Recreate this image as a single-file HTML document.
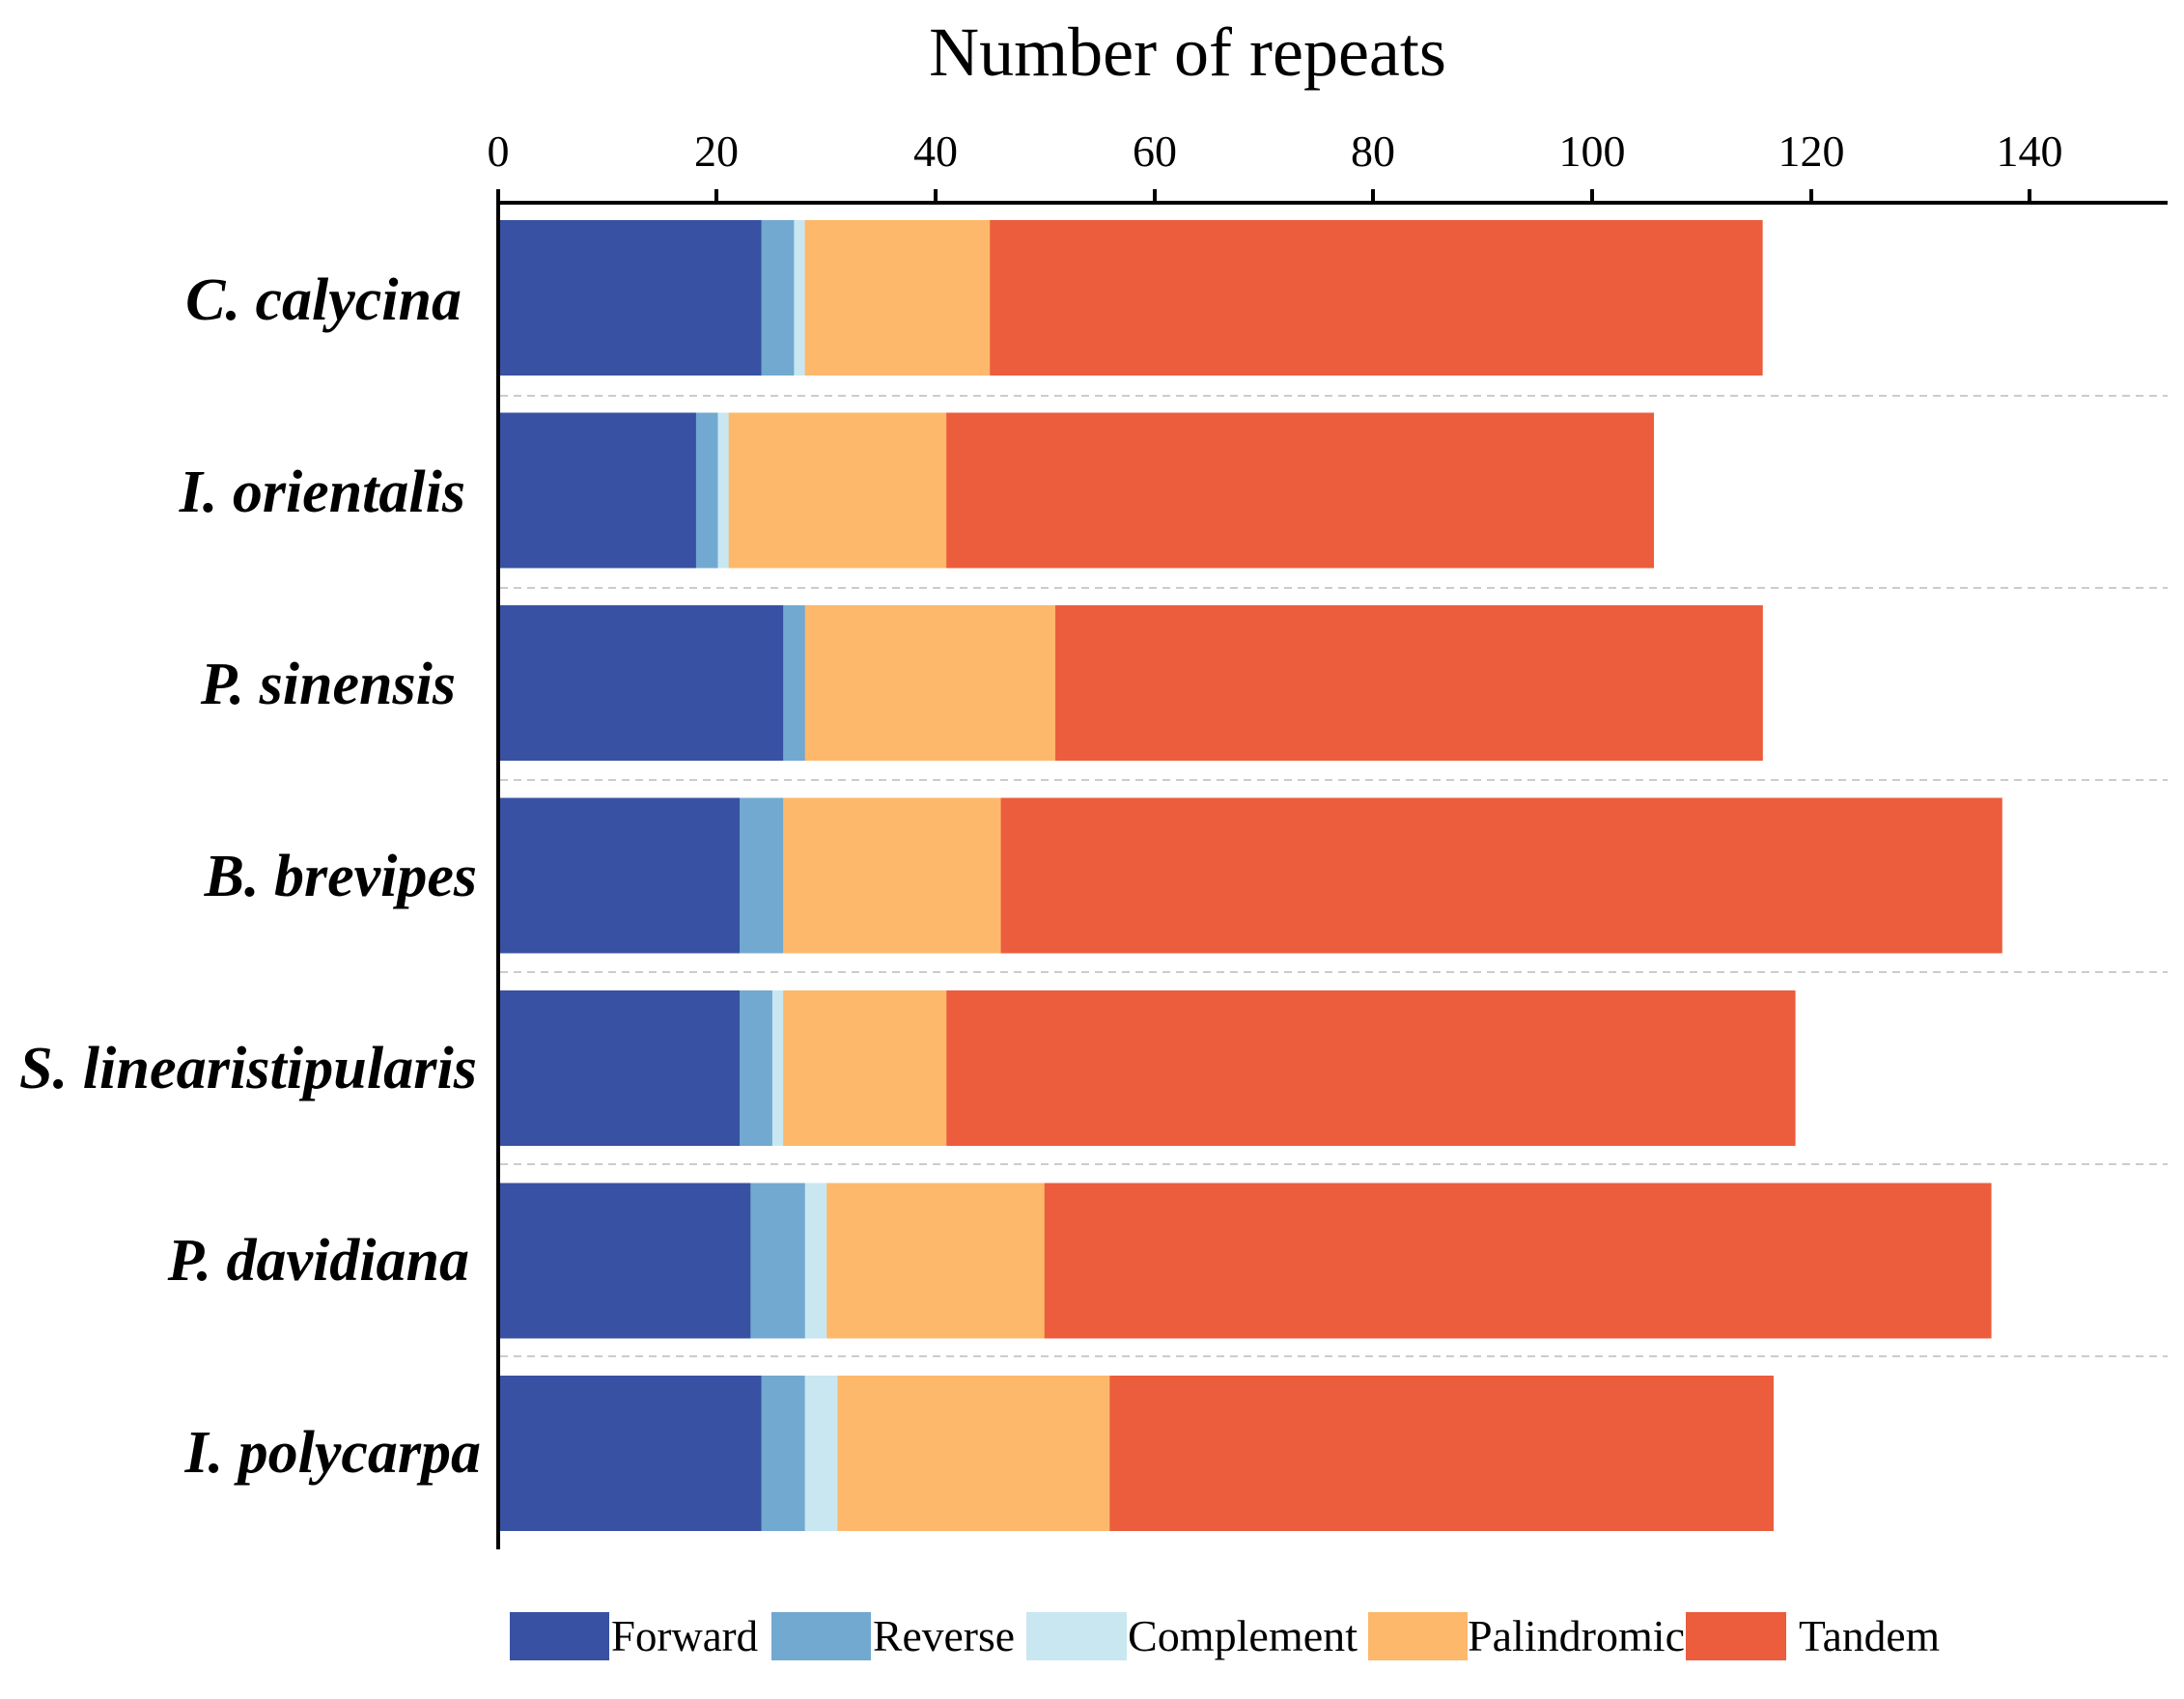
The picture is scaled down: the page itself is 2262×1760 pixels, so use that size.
<!DOCTYPE html>
<html><head><meta charset="utf-8"><style>html,body{margin:0;padding:0;background:#fff}svg{display:block}</style></head><body>
<svg width="2262" height="1760" viewBox="0 0 2262 1760" xmlns="http://www.w3.org/2000/svg" font-family="Liberation Serif, serif">
<text x="1230" y="78" font-size="72" text-anchor="middle">Number of  repeats</text>
<g font-size="46" text-anchor="middle">
<text x="516" y="172">0</text><text x="742" y="172">20</text><text x="969" y="172">40</text><text x="1196" y="172">60</text><text x="1422" y="172">80</text><text x="1649" y="172">100</text><text x="1876" y="172">120</text><text x="2102" y="172">140</text>
</g>
<g stroke="#ccc" stroke-width="2" stroke-dasharray="8,6">
<line x1="518" y1="410" x2="2245" y2="410"/><line x1="518" y1="609" x2="2245" y2="609"/><line x1="518" y1="808" x2="2245" y2="808"/><line x1="518" y1="1007" x2="2245" y2="1007"/><line x1="518" y1="1206" x2="2245" y2="1206"/><line x1="518" y1="1405" x2="2245" y2="1405"/>
</g>
<g transform="translate(518 0) scale(0.995 1) translate(-518 -1)">
<rect x="518" y="229" width="272.4" height="161" fill="#3851a3"/><rect x="789.9" y="229" width="34.5" height="161" fill="#72a9d0"/><rect x="823.9" y="229" width="11.8" height="161" fill="#c8e7f1"/><rect x="835.2" y="229" width="193.1" height="161" fill="#fdb86b"/><rect x="1027.8" y="229" width="804.4" height="161" fill="#eb5d3d"/>
<rect x="518" y="428.5" width="204.4" height="161" fill="#3851a3"/><rect x="721.9" y="428.5" width="23.2" height="161" fill="#72a9d0"/><rect x="744.6" y="428.5" width="11.8" height="161" fill="#c8e7f1"/><rect x="755.9" y="428.5" width="227.1" height="161" fill="#fdb86b"/><rect x="982.5" y="428.5" width="736.5" height="161" fill="#eb5d3d"/>
<rect x="518" y="628" width="295.1" height="161" fill="#3851a3"/><rect x="812.6" y="628" width="23.2" height="161" fill="#72a9d0"/><rect x="835.3" y="628" width="261.1" height="161" fill="#fdb86b"/><rect x="1095.9" y="628" width="736.5" height="161" fill="#eb5d3d"/>
<rect x="518" y="827.5" width="249.8" height="161" fill="#3851a3"/><rect x="767.3" y="827.5" width="45.8" height="161" fill="#72a9d0"/><rect x="812.6" y="827.5" width="227.1" height="161" fill="#fdb86b"/><rect x="1039.2" y="827.5" width="1042.4" height="161" fill="#eb5d3d"/>
<rect x="518" y="1027" width="249.8" height="161" fill="#3851a3"/><rect x="767.3" y="1027" width="34.5" height="161" fill="#72a9d0"/><rect x="801.3" y="1027" width="11.8" height="161" fill="#c8e7f1"/><rect x="812.6" y="1027" width="170.5" height="161" fill="#fdb86b"/><rect x="982.6" y="1027" width="883.7" height="161" fill="#eb5d3d"/>
<rect x="518" y="1226.5" width="261.1" height="161" fill="#3851a3"/><rect x="778.6" y="1226.5" width="57.2" height="161" fill="#72a9d0"/><rect x="835.3" y="1226.5" width="23.2" height="161" fill="#c8e7f1"/><rect x="858" y="1226.5" width="227.1" height="161" fill="#fdb86b"/><rect x="1084.6" y="1226.5" width="985.7" height="161" fill="#eb5d3d"/>
<rect x="518" y="1426" width="272.4" height="161" fill="#3851a3"/><rect x="789.9" y="1426" width="45.8" height="161" fill="#72a9d0"/><rect x="835.2" y="1426" width="34.5" height="161" fill="#c8e7f1"/><rect x="869.2" y="1426" width="283.8" height="161" fill="#fdb86b"/><rect x="1152.5" y="1426" width="691.1" height="161" fill="#eb5d3d"/>
</g>
<g stroke="#000" stroke-width="4">
<line x1="516" y1="210" x2="2245" y2="210"/>
<line x1="516" y1="196" x2="516" y2="1605"/>
<line x1="742" y1="196" x2="742" y2="210"/><line x1="969" y1="196" x2="969" y2="210"/><line x1="1196" y1="196" x2="1196" y2="210"/><line x1="1422" y1="196" x2="1422" y2="210"/><line x1="1649" y1="196" x2="1649" y2="210"/><line x1="1876" y1="196" x2="1876" y2="210"/><line x1="2102" y1="196" x2="2102" y2="210"/>
</g>
<g font-size="62" font-weight="bold" font-style="italic" text-anchor="end">
<text x="478" y="331">C. calycina</text>
<text x="482" y="530">I. orientalis</text>
<text x="472" y="729">P. sinensis</text>
<text x="494" y="928">B. brevipes</text>
<text x="494" y="1127" textLength="474" lengthAdjust="spacingAndGlyphs">S. linearistipularis</text>
<text x="486" y="1326">P. davidiana</text>
<text x="498" y="1525">I. polycarpa</text>
</g>
<g>
<rect x="528" y="1670" width="103" height="50" fill="#3851a3"/>
<rect x="799" y="1670" width="103" height="50" fill="#72a9d0"/>
<rect x="1063" y="1670" width="104" height="50" fill="#c8e7f1"/>
<rect x="1417" y="1670" width="103" height="50" fill="#fdb86b"/>
<rect x="1746" y="1670" width="104" height="50" fill="#eb5d3d"/>
</g>
<g font-size="46">
<text x="633" y="1710" textLength="152" lengthAdjust="spacingAndGlyphs">Forward</text>
<text x="904" y="1710" textLength="147" lengthAdjust="spacingAndGlyphs">Reverse</text>
<text x="1168" y="1710" textLength="238" lengthAdjust="spacingAndGlyphs">Complement</text>
<text x="1520" y="1710" textLength="225" lengthAdjust="spacingAndGlyphs">Palindromic</text>
<text x="1863" y="1710" textLength="146" lengthAdjust="spacingAndGlyphs">Tandem</text>
</g>
</svg>
</body></html>
